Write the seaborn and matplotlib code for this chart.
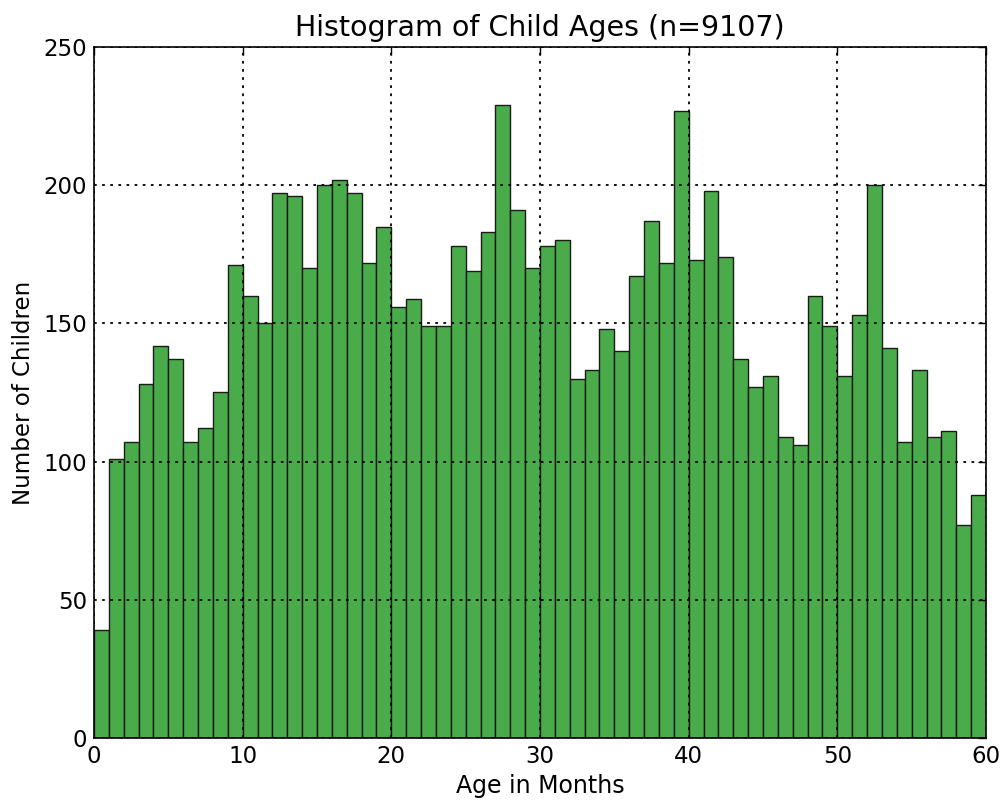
import numpy as np
import pandas as pd
import seaborn as sns
import matplotlib.pyplot as plt

# counts per one-month bin, 0..59
ages = np.arange(0, 60)
counts = [39, 101, 107, 128, 142, 137, 107, 112, 125, 171,
          160, 150, 197, 196, 170, 200, 202, 197, 172, 185,
          156, 159, 149, 149, 178, 169, 183, 229, 191, 170,
          178, 180, 130, 133, 148, 140, 167, 187, 172, 227,
          173, 198, 174, 137, 127, 131, 109, 106, 160, 149,
          131, 153, 200, 141, 107, 133, 109, 111, 77, 88]

df = pd.DataFrame({'age': ages + 0.5, 'n': counts})

sns.set_style('white')
plt.rcParams['font.family'] = ['DejaVu Sans']
plt.rcParams['xtick.direction'] = 'in'
plt.rcParams['ytick.direction'] = 'in'
plt.rcParams['text.color'] = 'black'
plt.rcParams['axes.labelcolor'] = 'black'
plt.rcParams['xtick.color'] = 'black'
plt.rcParams['ytick.color'] = 'black'

fig = plt.figure(figsize=(10.03, 8.02), dpi=100)
ax = fig.add_axes([94 / 1003, 1 - 738 / 802, 892 / 1003, 691 / 802])

sns.histplot(data=df, x='age', weights='n', binwidth=1, binrange=(0, 60), ax=ax,
             color='#4aab4a', alpha=1.0, edgecolor='#1a1a1a', linewidth=1.0)

ax.set_xlim(0, 60)
ax.set_ylim(0, 250)
ax.set_xticks(np.arange(0, 61, 10))
ax.set_yticks(np.arange(0, 251, 50))
ax.grid(True, color='black', linestyle=(0, (1.5, 3)), linewidth=1.3)
ax.set_axisbelow(False)
for s in ax.spines.values():
    s.set_color('black')
    s.set_linewidth(1.2)
ax.tick_params(axis='both', which='both', top=True, right=True, length=6,
               width=1, labelsize=16.5, pad=5)
ax.set_title('Histogram of Child Ages (n=9107)', fontsize=20.5, pad=8)
ax.set_xlabel('Age in Months', fontsize=17, labelpad=4)
ax.set_ylabel('Number of Children', fontsize=16.5, labelpad=6)

fig.savefig('out.png', dpi=100)
